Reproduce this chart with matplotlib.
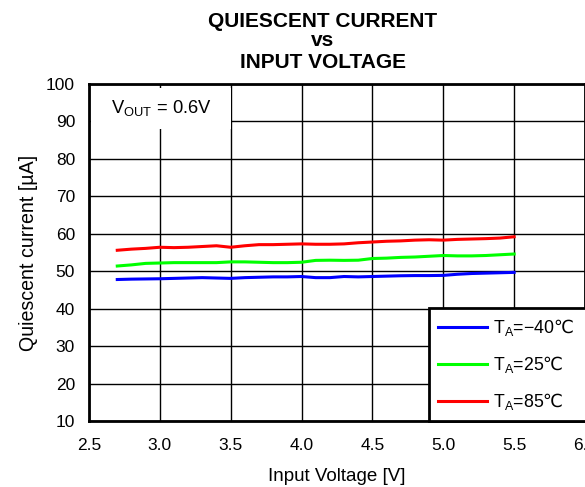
import numpy as np
import matplotlib
matplotlib.use("Agg")
import matplotlib.pyplot as plt
from matplotlib.patches import Rectangle

plt.rcParams['font.family'] = ['Liberation Sans', 'DejaVu Sans']
plt.rcParams['mathtext.fontset'] = 'custom'
plt.rcParams['mathtext.rm'] = 'Liberation Sans'
plt.rcParams['mathtext.it'] = 'Liberation Sans:italic'
plt.rcParams['mathtext.sf'] = 'DejaVu Sans'

# input voltage [V]
vin = [2.7, 2.8, 2.9, 3.0, 3.1, 3.2, 3.3, 3.4, 3.5, 3.6, 3.7, 3.8, 3.9, 4.0, 4.1,
       4.2, 4.3, 4.4, 4.5, 4.6, 4.7, 4.8, 4.9, 5.0, 5.1, 5.2, 5.3, 5.4, 5.5]
# quiescent current [uA]
iq_m40 = [47.8, 47.9, 47.95, 48.0, 48.1, 48.2, 48.3, 48.2, 48.1, 48.3, 48.4, 48.5, 48.5, 48.6, 48.3,
          48.3, 48.6, 48.5, 48.6, 48.7, 48.8, 48.85, 48.85, 48.9, 49.2, 49.4, 49.5, 49.6, 49.7]
iq_25 = [51.4, 51.7, 52.1, 52.2, 52.3, 52.3, 52.3, 52.3, 52.5, 52.5, 52.4, 52.3, 52.3, 52.4, 52.9,
         52.95, 52.9, 52.95, 53.4, 53.5, 53.7, 53.8, 54.0, 54.2, 54.1, 54.1, 54.2, 54.4, 54.6]
iq_85 = [55.6, 55.9, 56.1, 56.4, 56.3, 56.4, 56.6, 56.8, 56.4, 56.8, 57.1, 57.1, 57.2, 57.3, 57.2,
         57.2, 57.3, 57.6, 57.8, 58.0, 58.1, 58.3, 58.4, 58.3, 58.5, 58.6, 58.7, 58.85, 59.2]

labels = ["T$_{\\mathrm{A}}$=\u221240$\\mathsf{\u2103}$",
          "T$_{\\mathrm{A}}$=25$\\mathsf{\u2103}$",
          "T$_{\\mathrm{A}}$=85$\\mathsf{\u2103}$"]
colors = ["#0000ff", "#00ff00", "#ff0000"]

xticks = [2.5, 3.0, 3.5, 4.0, 4.5, 5.0, 5.5, 6.0]
yticks = [10, 20, 30, 40, 50, 60, 70, 80, 90, 100]

fig = plt.figure(figsize=(5.85, 4.87), dpi=100)
ax = fig.add_axes([0.152, 0.135, 0.848, 0.693])

for y, c, lab in zip([iq_m40, iq_25, iq_85], colors, labels):
	ax.plot(vin, y, color=c, lw=2.2, label=lab, zorder=3)

ax.set_xlim(2.5, 6.0)
ax.set_ylim(10, 100)
ax.set_xticks(xticks)
ax.set_yticks(yticks)
ax.set_xticklabels(["%.1f" % v for v in xticks])
ax.tick_params(length=0, labelsize=12.5)
ax.tick_params(axis="x", pad=12)
ax.tick_params(axis="y", pad=10)
ax.grid(True, color="black", lw=1)
ax.set_axisbelow(True)
for s in ax.spines.values():
	s.set_linewidth(2)

# V_OUT note (white box hides the grid behind it)
ax.add_patch(Rectangle((0.004, 0.866), 0.282, 0.122, transform=ax.transAxes,
	facecolor="white", edgecolor="none", zorder=1))
ax.text(0.045, 0.927, "V$_{\\mathrm{OUT}}$ = 0.6V", transform=ax.transAxes,
	fontsize=13.2, va="center", ha="left", zorder=4)

leg = ax.legend(loc="lower left", bbox_to_anchor=(0.685, 0.0, 0.35, 0.325),
	mode="expand", borderaxespad=0, fontsize=12.8, handlelength=2.8,
	handletextpad=0.3, labelspacing=0.9, borderpad=0.5, fancybox=False,
	framealpha=1, edgecolor="black")
leg.get_frame().set_linewidth(2)
leg.set_zorder(5)

ax.set_xlabel("Input Voltage [V]", fontsize=13.5, labelpad=11)
ax.set_ylabel("Quiescent current [\u00b5A]", fontsize=14.1, labelpad=6)

# title, three lines
fig.text(0.552, 0.9452, "QUIESCENT CURRENT", ha="center", va="baseline",
	fontsize=15, fontweight="bold")
fig.text(0.552, 0.9062, "vs", ha="center", va="baseline",
	fontsize=15, fontweight="bold")
fig.text(0.552, 0.8598, "INPUT VOLTAGE", ha="center", va="baseline",
	fontsize=15, fontweight="bold")

fig.savefig("out.png", dpi=100)
